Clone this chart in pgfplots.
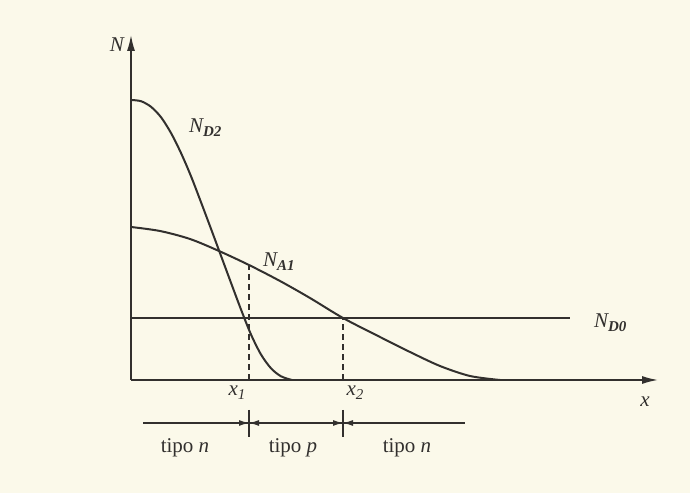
\documentclass[border=0pt]{standalone}
\usepackage{pgfplots}
\pgfplotsset{compat=1.18}
\usepackage{fontspec}
\setmainfont{Liberation Serif}
\usetikzlibrary{arrows.meta}

\definecolor{paper}{RGB}{251,249,234}
\definecolor{ink}{RGB}{50,48,46}

% doping profiles (horizontal: depth, vertical: concentration)
\pgfplotstableread{
x    y
0    280
10   278.8
20   273.2
30   262.8
40   247
50   227
60   203.8
70   177.8
80   151.2
90   124.2
100  97.2
110  70.5
120  45.5
130  25.5
140  11.7
150  3.7
161  0
}\NDtwo

\pgfplotstableread{
x    y
0    153
29   149
59   141
88   129
118  115
149  99
179  82
212  62
249  43
279  28
309  14
339  4
369  0
}\NAone

\pgfplotstableread{
x    y
0    62
439  62
}\NDzero

% symbol with a lowered subscript
\newcommand{\lab}[3][\mdseries]{{\itshape #2}\raisebox{-0.42ex}{\fontsize{7.5}{8}\selectfont\itshape #1#3}}

\begin{document}
\begin{tikzpicture}[font=\fontsize{10.5}{12}\selectfont, every node/.style={text=ink}]
\begin{axis}[
  scale only axis,
  width=263.5pt, height=172.5pt,
  xmin=0, xmax=527, ymin=0, ymax=345,
  axis lines=none,
  enlargelimits=false,
  clip=false,
]
  % paper background and picture extent
  \path[fill=paper] (axis cs:-131,-113) rectangle (axis cs:559,380);

  % axes
  \draw[ink, line width=0.75pt, -{Latex[length=8pt,width=4pt]}] (axis cs:0,0) -- (axis cs:527,0);
  \draw[ink, line width=0.75pt, -{Latex[length=8pt,width=4pt]}] (axis cs:0,0) -- (axis cs:0,345);
  \node at (axis cs:-14,335) {\itshape N};
  \node at (axis cs:514,-22) {\itshape x};

  % profiles
  \addplot[ink, line width=0.75pt] table[x=x,y=y] {\NDzero};
  \addplot[ink, line width=1pt, smooth, tension=0.5] table[x=x,y=y] {\NAone};
  \addplot[ink, line width=1pt, smooth, tension=0.5] table[x=x,y=y] {\NDtwo};

  % junctions
  \addplot[ink, line width=0.6pt, dash pattern=on 3pt off 2pt] coordinates {(118,0) (118,115)};
  \addplot[ink, line width=0.6pt, dash pattern=on 3pt off 2pt] coordinates {(212,0) (212,62)};

  \node[anchor=west] at (axis cs:51,252) {\lab[\bfseries]{N}{D2}};
  \node[anchor=west] at (axis cs:125,118) {\lab[\bfseries]{N}{A1}};
  \node[anchor=west] at (axis cs:456,57) {\lab[\bfseries]{N}{D0}};
  \node at (axis cs:106,-13) {\lab{x}{1}};
  \node at (axis cs:224,-13) {\lab{x}{2}};

  % regions along depth
  \draw[ink, line width=0.6pt] (axis cs:12,-43) -- (axis cs:334,-43);
  \draw[ink, line width=0.6pt] (axis cs:118,-30) -- (axis cs:118,-57);
  \draw[ink, line width=0.6pt] (axis cs:212,-30) -- (axis cs:212,-57);
  \draw[ink, line width=0.6pt, -{Latex[length=5pt,width=3pt]}] (axis cs:104,-43) -- (axis cs:118,-43);
  \draw[ink, line width=0.6pt, -{Latex[length=5pt,width=3pt]}] (axis cs:132,-43) -- (axis cs:118,-43);
  \draw[ink, line width=0.6pt, -{Latex[length=5pt,width=3pt]}] (axis cs:198,-43) -- (axis cs:212,-43);
  \draw[ink, line width=0.6pt, -{Latex[length=5pt,width=3pt]}] (axis cs:226,-43) -- (axis cs:212,-43);
  \node at (axis cs:54,-68) {tipo \itshape n};
  \node at (axis cs:162,-68) {tipo \itshape p};
  \node at (axis cs:276,-68) {tipo \itshape n};
\end{axis}
\end{tikzpicture}
\end{document}
